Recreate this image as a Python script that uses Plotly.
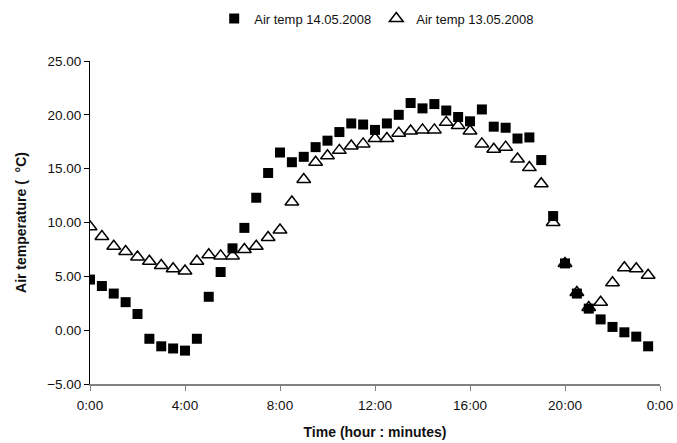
import plotly.graph_objects as go

times = ["0:00", "0:30", "1:00", "1:30", "2:00", "2:30", "3:00", "3:30",
         "4:00", "4:30", "5:00", "5:30", "6:00", "6:30", "7:00", "7:30",
         "8:00", "8:30", "9:00", "9:30", "10:00", "10:30", "11:00", "11:30",
         "12:00", "12:30", "13:00", "13:30", "14:00", "14:30", "15:00", "15:30",
         "16:00", "16:30", "17:00", "17:30", "18:00", "18:30", "19:00", "19:30",
         "20:00", "20:30", "21:00", "21:30", "22:00", "22:30", "23:00", "23:30"]

temp_14_05 = [4.7, 4.1, 3.4, 2.6, 1.5, -0.8, -1.5, -1.7,
              -1.9, -0.8, 3.1, 5.4, 7.6, 9.5, 12.3, 14.6,
              16.5, 15.6, 16.1, 17.0, 17.6, 18.4, 19.2, 19.1,
              18.6, 19.2, 20.0, 21.1, 20.6, 21.0, 20.4, 19.8,
              19.4, 20.5, 18.9, 18.8, 17.8, 17.9, 15.8, 10.6,
              6.2, 3.4, 2.0, 1.0, 0.3, -0.2, -0.6, -1.5]

temp_13_05 = [9.6, 8.7, 7.8, 7.3, 6.8, 6.4, 6.0, 5.7,
              5.5, 6.4, 7.0, 6.9, 6.9, 7.5, 7.8, 8.6,
              9.3, 11.9, 14.0, 15.6, 16.2, 16.7, 17.1, 17.3,
              17.8, 17.8, 18.3, 18.5, 18.6, 18.6, 19.3, 19.0,
              18.5, 17.3, 16.8, 17.0, 15.9, 15.1, 13.6, 10.0,
              6.2, 3.5, 2.1, 2.6, 4.4, 5.8, 5.7, 5.1]

tick_hours = [0, 4, 8, 12, 16, 20, 24]
tick_labels = ["0:00", "4:00", "8:00", "12:00", "16:00", "20:00", "0:00"]
y_ticks = [-5, 0, 5, 10, 15, 20, 25]


def to_hours(t):
    h, m = t.split(":")
    return int(h) + int(m) / 60.0


x_hours = [to_hours(t) for t in times]

font_family = "Liberation Sans, Arial, sans-serif"

fig = go.Figure()
fig.add_trace(go.Scatter(
    x=x_hours, y=temp_13_05, mode="markers", name="Air temp 13.05.2008",
    marker=dict(symbol="triangle-up", size=12, color="white",
                line=dict(color="black", width=1.5)),
    legendrank=2,
))
fig.add_trace(go.Scatter(
    x=x_hours, y=temp_14_05, mode="markers", name="Air temp 14.05.2008",
    marker=dict(symbol="square", size=10, color="black",
                line=dict(color="black", width=0)),
    legendrank=1,
))

fig.update_layout(
    width=677, height=443,
    margin=dict(l=90, r=17, t=61, b=59, autoexpand=False),
    paper_bgcolor="white", plot_bgcolor="white",
    font=dict(family=font_family, size=13, color="#111"),
    showlegend=True,
    legend=dict(orientation="h", x=0.503, xanchor="center", y=1.178, yanchor="top",
                font=dict(size=13, color="#111"), itemwidth=30,
                tracegroupgap=0, bgcolor="rgba(0,0,0,0)"),
    xaxis=dict(
        range=[0, 24], tickmode="array", tickvals=tick_hours, ticktext=tick_labels,
        showgrid=False, zeroline=False, showline=True, linecolor="#808080", linewidth=2,
        ticks="outside", ticklen=5, tickcolor="#808080", tickwidth=1,
        tickfont=dict(size=13.5, color="#111"), ticklabelstandoff=3,
        automargin=False,
        title=dict(text="<b>Time (hour : minutes)</b>", font=dict(size=14, color="#111"),
                   standoff=15),
    ),
    yaxis=dict(
        range=[-5, 25], tickmode="array", tickvals=y_ticks, tickformat=".2f",
        showgrid=False, zeroline=False, showline=True, linecolor="black", linewidth=1,
        ticks="outside", ticklen=5, tickcolor="black", tickwidth=1,
        tickfont=dict(size=13.5, color="#111"),
        automargin=False,
        title=dict(text="<b>Air temperature (  °C)</b>", font=dict(size=14, color="#111"),
                   standoff=17),
    ),
)

fig.write_html("out.html")
